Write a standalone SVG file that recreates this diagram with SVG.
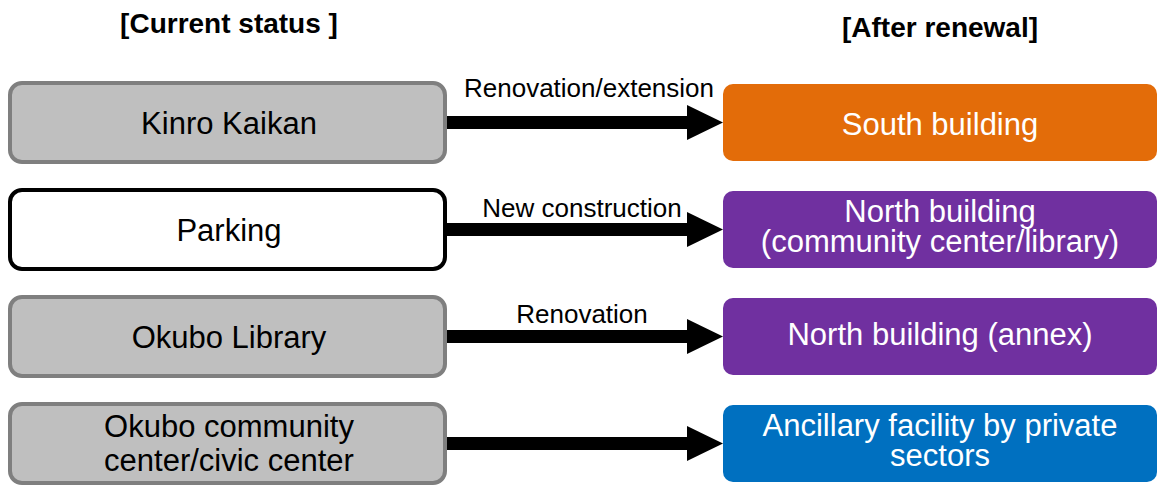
<svg xmlns="http://www.w3.org/2000/svg" width="1163" height="491" viewBox="0 0 1163 491">
  <style>
    text { font-family: "Liberation Sans", Arial, sans-serif; }
    .title { font-size: 28px; font-weight: bold; fill: #000; }
    .src { stroke-width: 4; }
    .old { fill: #bfbfbf; stroke: #7f7f7f; }
    .empty { fill: #ffffff; stroke: #000000; }
    .src-label { font-size: 31px; fill: #000; text-anchor: middle; }
    .dst-label { font-size: 31px; fill: #fff; text-anchor: middle; }
    .edge-label { font-size: 26px; fill: #000; text-anchor: middle; }
    .shaft { stroke: #000; stroke-width: 13; fill: none; }
    .head { fill: #000; }
  </style>

  <!-- column headings -->
  <text class="title" x="229" y="33" text-anchor="middle">[Current status ]</text>
  <text class="title" x="940" y="37" text-anchor="middle">[After renewal]</text>

  <!-- current facilities -->
  <g id="kinro-kaikan">
    <rect class="src old" x="10" y="83" width="435" height="79" rx="12"/>
    <text class="src-label" x="229" y="134">Kinro Kaikan</text>
  </g>
  <g id="parking">
    <rect class="src empty" x="10" y="190" width="435" height="79" rx="12"/>
    <text class="src-label" x="229" y="241">Parking</text>
  </g>
  <g id="okubo-library">
    <rect class="src old" x="10" y="297" width="435" height="79" rx="12"/>
    <text class="src-label" x="229" y="348">Okubo Library</text>
  </g>
  <g id="okubo-community-center">
    <rect class="src old" x="10" y="404" width="435" height="79" rx="12"/>
    <text class="src-label" x="229" y="437">Okubo community<tspan x="229" dy="34">center/civic center</tspan></text>
  </g>

  <!-- facilities after renewal -->
  <g id="south-building">
    <rect x="723" y="84" width="434" height="77" rx="10" fill="#e36c09"/>
    <text class="dst-label" x="940" y="135">South building</text>
  </g>
  <g id="north-building">
    <rect x="723" y="191" width="434" height="77" rx="10" fill="#7030a0"/>
    <text class="dst-label" x="940" y="222">North building<tspan x="940" dy="30">(community center/library)</tspan></text>
  </g>
  <g id="north-building-annex">
    <rect x="723" y="298" width="434" height="77" rx="10" fill="#7030a0"/>
    <text class="dst-label" x="940" y="345">North building (annex)</text>
  </g>
  <g id="ancillary-facility">
    <rect x="723" y="405" width="434" height="77" rx="10" fill="#0070c0"/>
    <text class="dst-label" x="940" y="436">Ancillary facility by private<tspan x="940" dy="30">sectors</tspan></text>
  </g>

  <!-- transitions -->
  <g id="connectors">
    <line class="shaft" x1="447" y1="122.5" x2="690" y2="122.5"/>
    <polygon class="head" points="687,105 723,122.5 687,140"/>
    <text class="edge-label" x="589" y="97">Renovation/extension</text>

    <line class="shaft" x1="447" y1="229.5" x2="690" y2="229.5"/>
    <polygon class="head" points="687,212 723,229.5 687,247"/>
    <text class="edge-label" x="582" y="217">New construction</text>

    <line class="shaft" x1="447" y1="336.5" x2="690" y2="336.5"/>
    <polygon class="head" points="687,319 723,336.5 687,354"/>
    <text class="edge-label" x="582" y="323">Renovation</text>

    <line class="shaft" x1="447" y1="443.5" x2="690" y2="443.5"/>
    <polygon class="head" points="687,426 723,443.5 687,461"/>
  </g>
</svg>
